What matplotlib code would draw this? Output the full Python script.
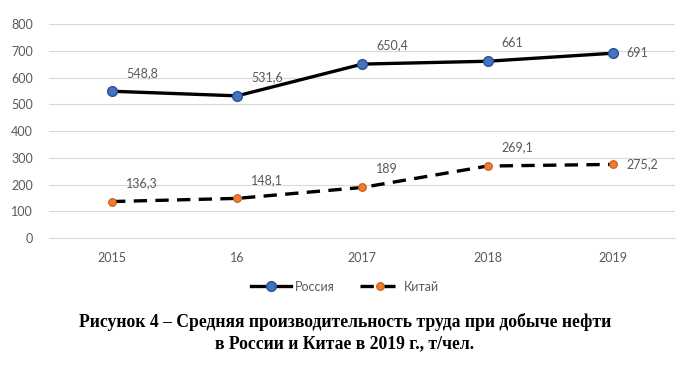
import matplotlib.pyplot as plt

years = ['2015', '16', '2017', '2018', '2019']
russia = [548.8, 531.6, 650.4, 661, 691]
china = [136.3, 148.1, 189, 269.1, 275.2]
russia_labels = ['548,8', '531,6', '650,4', '661', '691']
china_labels = ['136,3', '148,1', '189', '269,1', '275,2']

plt.rcParams['font.family'] = ['Lato', 'DejaVu Sans']
gray = '#595959'

figure = plt.figure(figsize=(6.9, 3.65), dpi=100)
axis = figure.add_axes([0.0717, 0.348, 0.907, 0.586])

x = list(range(len(years)))
axis.plot(x, russia, color='black', lw=2.4, marker='o', ms=7,
          markerfacecolor='#4472C4', markeredgecolor='#2F4F8F', markeredgewidth=1,
          label='Россия', zorder=3)
axis.plot(x, china, color='black', lw=2.4, ls=(0, (4, 2.5)), marker='o', ms=5.5,
          markerfacecolor='#ED7D31', markeredgecolor='#C55A11', markeredgewidth=0.8,
          label='Китай', zorder=3)

for series, labels in ((russia, russia_labels), (china, china_labels)):
    for i, (v, t) in enumerate(zip(series, labels)):
        if i == len(years) - 1:
            axis.annotate(t, (i, v), xytext=(10, 0), textcoords='offset points',
                          ha='left', va='center', fontsize=9, color=gray)
        else:
            axis.annotate(t, (i, v), xytext=(10, 9), textcoords='offset points',
                          ha='left', va='bottom', fontsize=9, color=gray)

axis.set_xlim(-0.5, len(years) - 0.5)
axis.set_ylim(0, 800)
axis.set_yticks(range(0, 801, 100))
axis.set_xticks(x)
axis.set_xticklabels(years)
axis.tick_params(axis='both', length=0, labelsize=9, labelcolor=gray)
axis.tick_params(axis='x', pad=10)
axis.tick_params(axis='y', pad=12)
axis.grid(axis='y', color='#D9D9D9', lw=0.8)
axis.set_axisbelow(True)
for s in axis.spines.values():
    s.set_visible(False)
axis.spines['bottom'].set_visible(True)
axis.spines['bottom'].set_color('#D9D9D9')

legend = figure.legend(loc='center', bbox_to_anchor=(0.5, 0.215), ncol=2, frameon=False,
                       fontsize=9, handlelength=3.2, columnspacing=2.0, handletextpad=0.3)
for t in legend.get_texts():
    t.set_color(gray)

figure.text(0.5, 0.088, 'Рисунок 4 – Средняя производительность труда при добыче нефти\n'
            'в России и Китае в 2019 г., т/чел.',
            ha='center', va='center', fontsize=12.7, fontweight='bold',
            family=['Liberation Serif', 'DejaVu Serif'], linespacing=1.3)

figure.savefig('out.png', dpi=100)
